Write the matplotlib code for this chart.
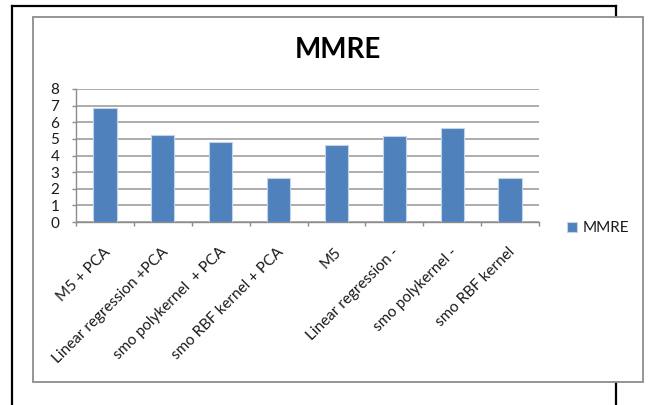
import matplotlib
matplotlib.use("Agg")
import matplotlib.pyplot as plt
from matplotlib.patches import Rectangle
from matplotlib.lines import Line2D
import matplotlib.transforms as mtransforms

plt.rcParams['font.family'] = ['Lato', 'DejaVu Sans']

categories = [
    "M5 + PCA",
    "Linear regression +PCA",
    "smo polykernel  + PCA",
    "smo RBF kernel + PCA",
    "M5",
    "Linear regression -",
    "smo polykernel -",
    "smo RBF kernel",
]
mmre = [6.87, 5.22, 4.82, 2.63, 4.62, 5.20, 5.64, 2.63]
y_ticks = [0, 1, 2, 3, 4, 5, 6, 7, 8]
series_name = "MMRE"

W, H = 648, 405
fig = plt.figure(figsize=(W / 100, H / 100), dpi=100)
fig.patch.set_facecolor('white')


def fx(px):
    return px / W


def fy(py):
    return 1 - py / H


# Outer black page frame (open at the bottom)
for xs, ys in [((12, 12), (6, 410)), ((12, 616), (6, 6)), ((616, 616), (6, 410))]:
    fig.add_artist(Line2D([fx(x) for x in xs], [fy(y) for y in ys],
                          color='black', lw=1.6, zorder=0))

# Chart area frame
fig.add_artist(Rectangle((fx(33), fy(382)), fx(643) - fx(33), fy(17) - fy(382),
                         facecolor='white', edgecolor='#8c8c8c', lw=1.3, zorder=1))

ax = fig.add_axes([fx(76), fy(222), fx(539) - fx(76), fy(89) - fy(222)], zorder=2)
ax.patch.set_alpha(0)

n = len(categories)
centers = list(range(n))
ax.bar(centers, mmre, width=0.40, color='#4F81BD', edgecolor='#c3d3e9',
       linewidth=0.8, label=series_name, zorder=3)

ax.set_xlim(-0.5, n - 0.5)
ax.set_ylim(0, 8)
ax.set_yticks(y_ticks)
ax.set_yticklabels([str(v) for v in y_ticks], fontsize=11, color='#1a1a1a')
ax.yaxis.grid(True, color='#a6a6a6', lw=1.3, zorder=0)
ax.set_axisbelow(True)

for s in ['top', 'right']:
    ax.spines[s].set_visible(False)
for s in ['left', 'bottom']:
    ax.spines[s].set_color('#8c8c8c')
    ax.spines[s].set_linewidth(1.0)

ax.tick_params(axis='y', length=3, width=1.0, color='#8c8c8c', pad=9)

# Category boundary tick marks
ax.set_xticks([c - 0.5 for c in centers] + [n - 0.5], minor=True)
ax.tick_params(axis='x', which='minor', length=3, width=1.0, color='#8c8c8c')

ax.set_xticks(centers)
ax.set_xticklabels(categories, rotation=45, ha='right', va='center',
                   rotation_mode='anchor', fontsize=11, color='#1a1a1a')
ax.tick_params(axis='x', which='major', length=0, pad=20)
shift = mtransforms.ScaledTranslation(3 / 100, 0, fig.dpi_scale_trans)
for lbl in ax.get_xticklabels():
    lbl.set_transform(lbl.get_transform() + shift)

fig.text(fx(338), fy(50), "MMRE", ha='center', va='center',
         fontsize=20, fontweight='bold', color='black', zorder=3)

fig.legend(loc='center left', bbox_to_anchor=(fx(567), fy(228)), frameon=False,
           fontsize=11, handlelength=0.65, handleheight=0.65, handletextpad=0.4,
           borderpad=0, borderaxespad=0, labelcolor='#1a1a1a')

fig.savefig("out.png", dpi=100, facecolor='white')
